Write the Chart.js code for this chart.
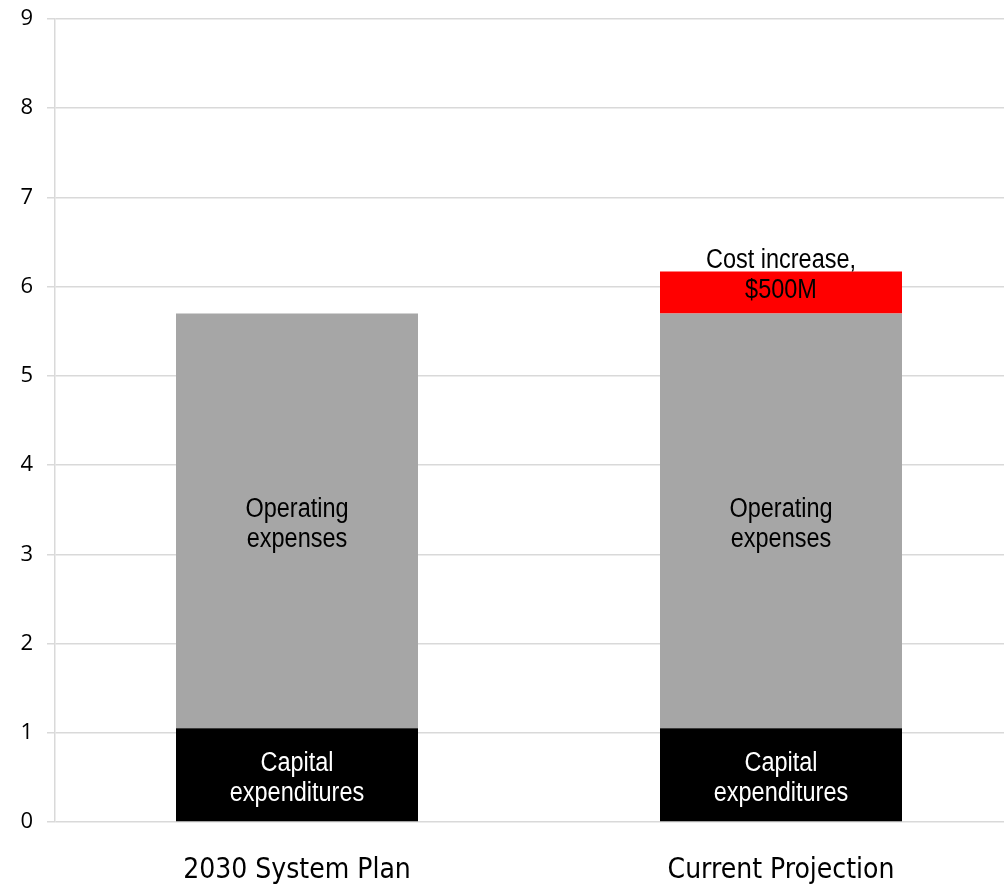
<!DOCTYPE html>
<html>
<head>
<meta charset="utf-8">
<script src="https://cdn.jsdelivr.net/npm/chart.js@4"></script>
<style>
  html, body { margin: 0; padding: 0; background: #fff; overflow: hidden; }
  #wrap { position: absolute; left: 0; top: 0; width: 1030px; height: 885px; }
</style>
</head>
<body>
<div id="wrap"><canvas id="c"></canvas></div>
<script>
const categories = ["2030 System Plan", "Current Projection"];
const capitalExpenditures = [1.05, 1.05];
const operatingExpenses = [4.65, 4.65];
const costIncrease = [null, 0.47];
const seriesLabels = [
  ["Capital", "expenditures"],
  ["Operating", "expenses"],
  ["Cost increase,", "$500M"]
];
const yTicks = [0, 1, 2, 3, 4, 5, 6, 7, 8, 9];

const labelFont = "27px 'Liberation Sans', Arial, sans-serif";
const labelSquash = 0.87;
const labelStyles = [
  { color: "#ffffff", offset: 4 },
  { color: "#000000", offset: 4 },
  { color: "#000000", offset: -17 }
];

const barLabels = {
  id: "barLabels",
  afterDatasetsDraw(chart) {
    const ctx = chart.ctx;
    chart.data.datasets.forEach((ds, di) => {
      const meta = chart.getDatasetMeta(di);
      const lines = seriesLabels[di];
      const st = labelStyles[di];
      meta.data.forEach((bar, i) => {
        if (ds.data[i] == null) return;
        const p = bar.getProps(["x", "y", "base"], true);
        const cy = (p.y + p.base) / 2 + st.offset;
        const lh = 30;
        lines.forEach((t, li) => {
          ctx.save();
          ctx.font = labelFont;
          ctx.textAlign = "center";
          ctx.textBaseline = "middle";
          ctx.fillStyle = st.color;
          ctx.translate(p.x, cy + (li - (lines.length - 1) / 2) * lh);
          ctx.scale(labelSquash, 1);
          ctx.fillText(t, 0, 0);
          ctx.restore();
        });
      });
    });
  }
};

new Chart(document.getElementById("c"), {
  type: "bar",
  data: {
    labels: categories,
    datasets: [
      { label: "Capital expenditures", data: capitalExpenditures, backgroundColor: "#000000" },
      { label: "Operating expenses", data: operatingExpenses, backgroundColor: "#a6a6a6" },
      { label: "Cost increase", data: costIncrease, backgroundColor: "#ff0000" }
    ]
  },
  options: {
    responsive: true,
    maintainAspectRatio: false,
    animation: false,
    layout: { padding: { top: 19, right: 7, left: 0, bottom: 0 } },
    plugins: { legend: { display: false }, tooltip: { enabled: false } },
    datasets: { bar: { categoryPercentage: 1.0, barPercentage: 0.5 } },
    scales: {
      x: {
        stacked: true,
        grid: { display: false, drawTicks: false },
        border: { display: false },
        ticks: {
          color: "#000000",
          padding: 32,
          font: { family: "'DejaVu Sans Condensed', sans-serif", size: 28 }
        },
        afterFit(scale) { scale.height = 63; scale.paddingLeft = 0; scale.paddingRight = 0; }
      },
      y: {
        stacked: true,
        min: 0,
        max: 9,
        afterBuildTicks(scale) { scale.ticks = yTicks.map(v => ({ value: v })); },
        grid: { color: "#d9d9d9", lineWidth: 1.5, tickLength: 8, drawTicks: true },
        border: { display: true, color: "#d9d9d9", width: 1.5 },
        ticks: {
          color: "#000000",
          padding: 14,
          font: { family: "'Open Sans', sans-serif", size: 22 }
        },
        afterFit(scale) { scale.width = 55; scale.paddingTop = 0; scale.paddingBottom = 0; }
      }
    }
  },
  plugins: [barLabels]
});
</script>
</body>
</html>
